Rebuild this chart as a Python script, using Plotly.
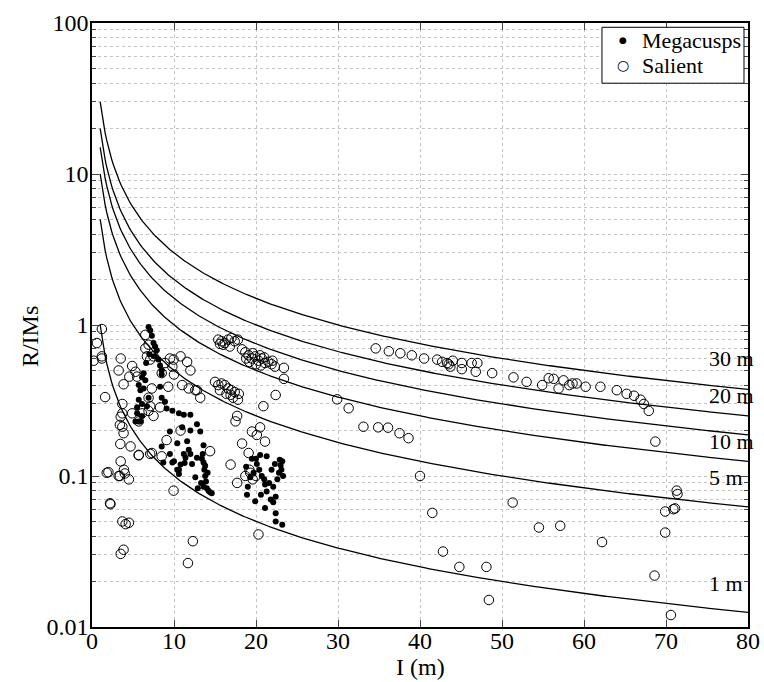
import numpy as np
import plotly.graph_objects as go

# ---- data ----
meg_I = [6.9, 7.1, 7.3, 7.5, 7.9, 7.7, 8.1, 8.3, 8.5, 8.5, 6.3, 6.5, 6.1, 5.7, 5.9, 6.3, 5.7, 6.9, 6.7, 5.5,
         6.1, 5.3, 5.7, 5.9, 6.1, 5.5, 8.3, 8.5, 8.9, 9.1, 9.8, 10.6, 11.2, 12.0, 12.8, 11.0, 9.5, 12.0, 13.2, 10.4,
         11.6, 11.8, 11.2, 8.5, 8.7, 9.8, 10.8, 11.3, 10.6, 12.8, 9.5, 10.0, 11.4, 12.0, 12.2, 10.4, 10.6, 12.6, 13.6, 13.5,
         13.6, 13.7, 13.8, 13.9, 13.6, 14.0, 14.2, 14.4, 14.6, 13.4, 13.8, 14.1, 13.3, 12.9, 7.0, 7.6, 6.6,
         19.5, 20.5, 21.3, 23.2, 22.9, 23.0, 23.1, 22.8, 20.1, 20.4, 19.7, 19.3, 20.7, 21.0, 21.1, 21.3, 22.1, 22.4,
         21.8, 22.1, 21.1, 22.4, 22.4, 23.2, 20.6, 21.6, 22.6, 19.0, 18.8, 21.9, 20.0, 22.3, 23.3, 19.9, 18.9]
meg_R = [0.97, 0.92, 0.85, 0.76, 0.68, 0.72, 0.59, 0.54, 0.50, 0.47, 0.48, 0.43, 0.45, 0.40, 0.37, 0.38, 0.32, 0.33, 0.29, 0.285,
         0.30, 0.23, 0.23, 0.23, 0.25, 0.26, 0.39, 0.33, 0.31, 0.28, 0.27, 0.26, 0.254, 0.254, 0.22, 0.21, 0.197, 0.20, 0.197, 0.165,
         0.17, 0.149, 0.14, 0.157, 0.123, 0.123, 0.119, 0.122, 0.11, 0.132, 0.14, 0.125, 0.132, 0.14, 0.12, 0.11, 0.103, 0.098, 0.16, 0.14,
         0.123, 0.11, 0.10, 0.092, 0.085, 0.083, 0.08, 0.078, 0.077, 0.13, 0.117, 0.105, 0.09, 0.083, 0.64, 0.62, 0.56,
         0.13, 0.138, 0.135, 0.125, 0.128, 0.118, 0.11, 0.105, 0.12, 0.11, 0.105, 0.098, 0.10, 0.095, 0.088, 0.079, 0.085, 0.073,
         0.07, 0.067, 0.0615, 0.0567, 0.05, 0.0475, 0.075, 0.09, 0.095, 0.085, 0.115, 0.11, 0.13, 0.12, 0.10, 0.068, 0.075]

sal_I = [0.2, 0.6, 1.2, 1.2, 1.2, 1.6, 3.5, 3.25, 4.9, 4.55, 3.85, 5.3, 5.5, 3.7, 3.7, 3.5, 3.4, 3.7, 3.85, 3.45,
         4.7, 5.7, 3.5, 3.9, 4.0, 2.0, 1.8, 3.25, 3.4, 4.5, 2.2, 2.25, 3.7, 4.1, 4.5, 3.85, 3.5,
         6.5, 6.9, 6.5, 6.7, 7.1, 7.5, 8.5, 8.9, 9.5, 9.95, 9.8, 10.8, 11.6, 12.0, 10.0, 11.0, 11.8, 12.8, 9.3,
         7.3, 6.9, 7.1, 8.3, 7.5, 6.9, 6.1, 4.9, 5.7, 9.1, 10.8, 7.3, 8.5, 13.2, 12.6, 5.7, 7.1, 9.95, 12.3, 11.7,
         15.4, 15.8, 16.2, 16.6, 17.0, 17.4, 17.8, 16.0, 16.8, 15.6, 18.3, 18.7, 19.1, 19.5, 19.9, 20.3, 20.7, 21.1,
         21.5, 21.9, 22.3, 19.2, 20.0, 20.6, 18.8, 19.6, 20.5, 21.0, 22.0, 23.4, 23.4,
         15.0, 15.4, 15.8, 16.2, 16.6, 17.0, 17.4, 17.9, 15.6, 16.4, 17.2, 17.8, 16.9, 22.4, 20.9, 17.7, 17.5,
         20.5, 19.5, 20.1, 21.1, 18.3, 14.4, 19.1, 16.9, 19.2, 19.3, 18.7, 19.6, 20.0, 17.7, 20.3,
         29.9, 31.3, 33.1, 34.9, 36.1, 37.5, 38.6, 40.0, 41.5, 42.8, 44.8, 48.1, 48.4, 51.3, 54.5, 57.1, 62.2,
         68.7, 68.6, 69.9, 69.9, 70.9, 71.1, 71.3, 71.4, 70.6,
         34.6, 36.2, 37.6, 39.0, 40.5, 42.1, 42.7, 43.3, 43.7, 44.0, 45.1, 45.1, 46.3, 47.0, 46.8, 43.5,
         48.8, 51.4, 53.0, 54.9, 55.7, 56.3, 57.5, 56.9, 58.2, 58.6, 59.1, 60.2, 62.0, 64.0, 65.2, 66.1, 66.9, 67.3, 67.9]
sal_R = [0.58, 0.76, 0.94, 0.62, 0.60, 0.333, 0.60, 0.50, 0.535, 0.455, 0.405, 0.49, 0.455, 0.30, 0.26, 0.247, 0.218, 0.212, 0.192, 0.163,
         0.157, 0.137, 0.125, 0.11, 0.104, 0.106, 0.105, 0.10, 0.10, 0.095, 0.066, 0.065, 0.05, 0.048, 0.049, 0.0325, 0.0305,
         0.86, 0.74, 0.70, 0.62, 0.59, 0.62, 0.48, 0.56, 0.60, 0.59, 0.53, 0.62, 0.57, 0.50, 0.47, 0.40, 0.38, 0.37, 0.39,
         0.38, 0.33, 0.29, 0.285, 0.25, 0.27, 0.26, 0.26, 0.23, 0.173, 0.20, 0.142, 0.135, 0.33, 0.37, 0.138, 0.14, 0.08, 0.037, 0.0265,
         0.80, 0.78, 0.76, 0.80, 0.82, 0.78, 0.80, 0.74, 0.72, 0.75, 0.69, 0.66, 0.63, 0.60, 0.62, 0.58, 0.60, 0.56,
         0.57, 0.55, 0.53, 0.57, 0.55, 0.54, 0.60, 0.65, 0.63, 0.61, 0.58, 0.52, 0.44,
         0.42, 0.40, 0.41, 0.40, 0.38, 0.37, 0.36, 0.35, 0.37, 0.35, 0.33, 0.32, 0.345, 0.344, 0.29, 0.25, 0.23,
         0.21, 0.197, 0.187, 0.169, 0.164, 0.146, 0.142, 0.119, 0.11, 0.105, 0.10, 0.095, 0.10, 0.09, 0.041,
         0.322, 0.281, 0.212, 0.21, 0.209, 0.192, 0.178, 0.10, 0.057, 0.0316, 0.025, 0.025, 0.0151, 0.0667, 0.0456, 0.0468, 0.0365,
         0.169, 0.0219, 0.0422, 0.0582, 0.0603, 0.061, 0.080, 0.076, 0.012,
         0.70, 0.67, 0.65, 0.63, 0.60, 0.59, 0.57, 0.56, 0.53, 0.58, 0.56, 0.51, 0.56, 0.56, 0.49, 0.55,
         0.48, 0.45, 0.42, 0.40, 0.444, 0.44, 0.43, 0.38, 0.40, 0.41, 0.41, 0.39, 0.39, 0.37, 0.35, 0.34, 0.32, 0.30, 0.27]

curve_R = [1, 5, 10, 15, 20, 30]          # R values of the reference curves (R/I)
curve_I_start, curve_I_end = 1, 80
curve_labels = ["30 m", "20 m", "10 m", "5 m", "1 m"]
curve_label_y = [0.596, 0.339, 0.169, 0.098, 0.0195]

x_ticks = [0, 10, 20, 30, 40, 50, 60, 70, 80]
y_ticks = [0.01, 0.1, 1, 10, 100]
y_tick_text = ["0.01", "0.1", "1", "10", "100"]

legend_names = ["Megacusps", "Salient"]
legend_symbols = ["\u25CF", "\u25CB"]

FONT = "'Liberation Serif', 'Times New Roman', serif"
SYMFONT = "'DejaVu Sans', sans-serif"

fig = go.Figure()

I_grid = np.linspace(curve_I_start, curve_I_end, 400)
for R in curve_R:
    fig.add_trace(go.Scatter(x=I_grid, y=R / I_grid, mode="lines",
                             line=dict(color="black", width=1.3),
                             showlegend=False, hoverinfo="skip"))

fig.add_trace(go.Scatter(x=meg_I, y=meg_R, mode="markers", name="Megacusps", showlegend=False,
                         marker=dict(symbol="circle", size=6, color="black")))
fig.add_trace(go.Scatter(x=sal_I, y=sal_R, mode="markers", name="Salient", showlegend=False,
                         marker=dict(symbol="circle-open", size=9.5, color="black",
                                     line=dict(width=1, color="black"))))

# curve labels
for txt, yv in zip(curve_labels, curve_label_y):
    fig.add_annotation(x=75.0, y=np.log10(yv), xref="x", yref="y", text=txt,
                       showarrow=False, xanchor="left", yanchor="middle",
                       font=dict(family=FONT, size=22, color="black"))

# legend box (drawn manually to match the compact MATLAB legend)
fig.add_shape(type="rect", xref="paper", yref="paper", x0=0.7774, x1=0.9939, y0=0.9003, y1=0.9929,
              line=dict(color="black", width=1), fillcolor="white", layer="above")
leg_y = [0.9715, 0.930]
leg_sym_size = [9, 14]
for name, sym, ssz, yy in zip(legend_names, legend_symbols, leg_sym_size, leg_y):
    fig.add_annotation(x=0.8095, y=yy, xref="paper", yref="paper", text=sym, showarrow=False,
                       xanchor="center", yanchor="middle", font=dict(family=SYMFONT, size=ssz, color="black"))
    fig.add_annotation(x=0.836, y=yy, xref="paper", yref="paper", text=name, showarrow=False,
                       xanchor="left", yanchor="middle", font=dict(family=FONT, size=22, color="black"))

# axis titles
fig.add_annotation(x=0.5, y=-0.0665, xref="paper", yref="paper", text="I (m)", showarrow=False,
                   xanchor="center", yanchor="middle", font=dict(family=FONT, size=24, color="black"))
fig.add_annotation(x=-0.0945, y=0.48, xref="paper", yref="paper", text="R/IMs", showarrow=False,
                   textangle=-90, xanchor="center", yanchor="middle",
                   font=dict(family=FONT, size=24, color="black"))

grid_col = "#c4c4c4"
fig.update_layout(
    width=764, height=682,
    margin=dict(l=92, r=16, t=23, b=55, autoexpand=False),
    paper_bgcolor="white", plot_bgcolor="white",
    font=dict(family=FONT, size=24, color="black"),
    showlegend=False,
    xaxis=dict(range=[0, 80], tickvals=x_ticks, ticks="inside", ticklen=7,
               showline=True, linecolor="black", linewidth=1.5, mirror="ticks",
               showgrid=True, gridcolor=grid_col, griddash="dot", gridwidth=1,
               zeroline=False, tickfont=dict(family=FONT, size=24), automargin=False,
               ticklabelstandoff=-9),
    yaxis=dict(type="log", range=[-2, 2], tickvals=y_ticks, ticktext=y_tick_text,
               ticks="inside", ticklen=7,
               showline=True, linecolor="black", linewidth=1.5, mirror="ticks",
               showgrid=True, gridcolor=grid_col, griddash="dot", gridwidth=1,
               zeroline=False, tickfont=dict(family=FONT, size=24), automargin=False,
               ticklabelstandoff=-3,
               minor=dict(ticks="inside", ticklen=4, showgrid=True, gridcolor=grid_col,
                          griddash="dot", dtick="D1")),
)

fig.write_html("out.html")
